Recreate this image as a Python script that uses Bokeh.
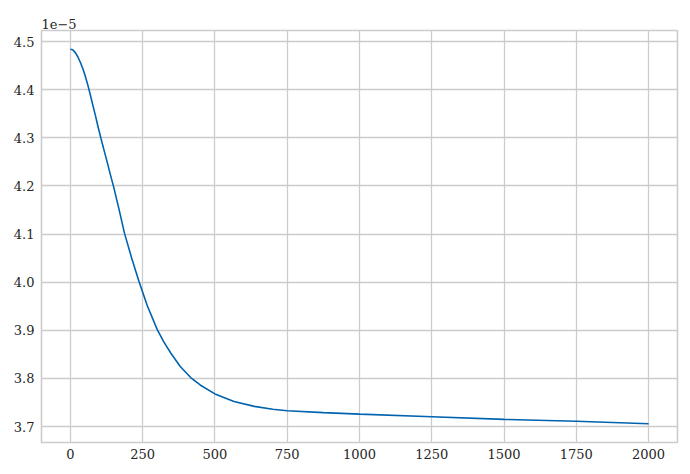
from bokeh.plotting import figure
from bokeh.models import Range1d, FixedTicker, Title, CustomJSTickFormatter
from bokeh.embed import file_html
from bokeh.resources import INLINE

# iteration index
steps = [0, 8, 17, 26, 35, 44, 52, 61, 69, 78, 87, 96, 106, 116, 127, 138,
         150, 168, 187, 212, 237, 266, 300, 323, 347, 380, 416, 450, 500,
         566, 636, 700, 750, 875, 1000, 1250, 1500, 1750, 2000]
# value (units of 1e-5)
loss = [4.484, 4.483, 4.477, 4.468, 4.456, 4.442, 4.427, 4.408, 4.389, 4.367,
        4.345, 4.322, 4.298, 4.275, 4.250, 4.224, 4.197, 4.152, 4.102, 4.050,
        4.002, 3.951, 3.902, 3.876, 3.853, 3.825, 3.802, 3.786, 3.768,
        3.752, 3.742, 3.736, 3.733, 3.729, 3.726, 3.7205, 3.715, 3.711, 3.706]
scale_label = "1e\u22125"
x_ticks = [0, 250, 500, 750, 1000, 1250, 1500, 1750, 2000]
y_ticks = [3.7, 3.8, 3.9, 4.0, 4.1, 4.2, 4.3, 4.4, 4.5]

FONT = "DejaVu Serif"
GRID = "#cccccc"
TXT = "#262626"

p = figure(width=682, height=466, output_backend="svg", toolbar_location=None,
           x_range=Range1d(-100, 2100), y_range=Range1d(3.667, 4.523),
           min_border_left=41, min_border_right=5, min_border_top=30,
           min_border_bottom=24)

p.line(steps, loss, line_color="#0063B0", line_width=1.6)

title = Title(text=scale_label, align="left", text_font=FONT,
              text_font_size="13px", text_font_style="normal",
              text_color=TXT, standoff=3, offset=0)
p.add_layout(title, "above")

p.background_fill_color = "white"
p.border_fill_color = "white"
p.outline_line_color = GRID
p.outline_line_width = 1.6

for ax in (p.xaxis[0], p.yaxis[0]):
    ax.axis_line_color = None
    ax.major_tick_line_color = None
    ax.minor_tick_line_color = None
    ax.major_tick_out = 0
    ax.major_tick_in = 0
    ax.major_label_text_font = FONT
    ax.major_label_text_font_size = "13px"
    ax.major_label_text_color = TXT

p.xaxis.ticker = FixedTicker(ticks=x_ticks)
p.yaxis.ticker = FixedTicker(ticks=y_ticks)
p.yaxis.formatter = CustomJSTickFormatter(code="return tick.toFixed(1);")
p.xaxis.major_label_standoff = 6
p.yaxis.major_label_standoff = 7

p.xgrid.grid_line_color = GRID
p.ygrid.grid_line_color = GRID
p.xgrid.grid_line_width = 1.3
p.ygrid.grid_line_width = 1.3

open("out.html", "w").write(file_html(p, INLINE))
